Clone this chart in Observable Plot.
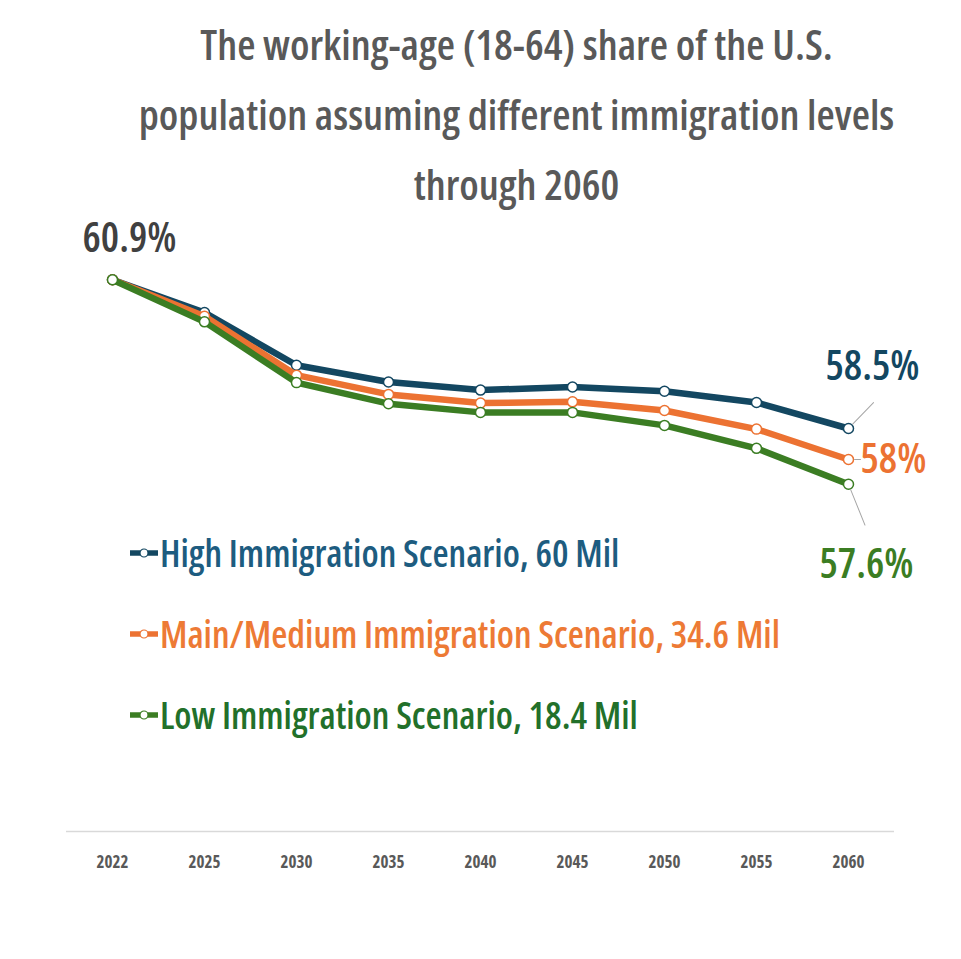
<!DOCTYPE html>
<html><head><meta charset="utf-8">
<script src="https://cdn.jsdelivr.net/npm/d3@7"></script>
<script src="https://cdn.jsdelivr.net/npm/@observablehq/plot@0.6"></script>
<style>
body{margin:0;background:#fff;width:961px;height:959px;overflow:hidden;position:relative;font-family:"Open Sans",sans-serif;font-stretch:75%;}
#title{height:190px;box-sizing:border-box;padding:9px 0 0 72px;text-align:center;font-size:42px;line-height:70px;font-weight:600;color:#595959;white-space:nowrap;}
#legend{position:absolute;left:130px;top:512px;}
.item{display:flex;align-items:center;height:81px;font-size:37px;font-weight:600;white-space:nowrap;}
.item svg{margin-right:2px;}
</style></head>
<body>
<div id="title">The working-age (18-64) share of the U.S.<br>population assuming different immigration levels<br>through 2060</div>
<div id="chart"></div>
<div id="legend"></div>
<script>
const years = ["2022","2025","2030","2035","2040","2045","2050","2055","2060"];
const highValues = [60.9, 60.37, 59.52, 59.25, 59.12, 59.17, 59.10, 58.92, 58.5];
const midValues  = [60.9, 60.31, 59.36, 59.05, 58.91, 58.93, 58.79, 58.49, 58.0];
const lowValues  = [60.9, 60.22, 59.24, 58.90, 58.76, 58.76, 58.55, 58.18, 57.6];
const seriesNames = ["High Immigration Scenario, 60 Mil", "Main/Medium Immigration Scenario, 34.6 Mil", "Low Immigration Scenario, 18.4 Mil"];
const lineColors = ["#134761", "#ec7232", "#3b7d23"];
const textColors = ["#1d5c80", "#ed7a35", "#22702a"];

const allValues = [highValues, midValues, lowValues];
const rows = allValues.map((vals, s) => years.map((year, i) => ({year, value: vals[i], series: seriesNames[s]})));
const fmt = v => v + "%";
const last = rows.map(r => r[r.length - 1]);
const leader = {draw(ctx, l) { ctx.moveTo(0, -6); ctx.lineTo(0, -l); }};

const marks = [Plot.ruleY([52], {stroke: "#d9d9d9", strokeWidth: 1.5})];
rows.forEach((r, s) => {
  marks.push(Plot.line(r, {x: "year", y: "value", stroke: lineColors[s], strokeWidth: 6.5}));
  marks.push(Plot.dot(r, {x: "year", y: "value", r: 5, fill: "white", stroke: lineColors[s], strokeWidth: 1.5}));
});
const labelStyle = {x: "year", y: "value", text: d => fmt(d.value), fontSize: 41, fontWeight: 600};
marks.push(Plot.text([rows[0][0]], {...labelStyle, dx: 17, dy: -41, fill: "#404040"}));
marks.push(Plot.vector([last[0]], {x: "year", y: "value", length: 36, rotate: 44, anchor: "start", shape: leader, stroke: "#a6a6a6", strokeWidth: 1}));
marks.push(Plot.vector([last[1]], {x: "year", y: "value", length: 12, rotate: 90, anchor: "start", shape: leader, stroke: "#a6a6a6", strokeWidth: 1}));
marks.push(Plot.vector([last[2]], {x: "year", y: "value", length: 44, rotate: 158, anchor: "start", shape: leader, stroke: "#a6a6a6", strokeWidth: 1}));
marks.push(Plot.text([last[0]], {...labelStyle, dx: 24, dy: -62, fill: lineColors[0]}));
marks.push(Plot.text([last[1]], {...labelStyle, dx: 12, dy: 0, textAnchor: "start", fill: lineColors[1]}));
marks.push(Plot.text([last[2]], {...labelStyle, dx: 18, dy: 81, fill: lineColors[2]}));
marks.push(Plot.axisX({tickSize: 0, tickPadding: 24, fontSize: 17, fontWeight: "bold", label: null}));

const chart = Plot.plot({
  width: 961,
  height: 769,
  marginTop: 83,
  marginBottom: 128,
  marginLeft: 66,
  marginRight: 67,
  style: {fontFamily: '"Open Sans",sans-serif', fontStretch: "75%", color: "#595959", background: "white"},
  x: {type: "point", domain: years, padding: 0.5, label: null},
  y: {domain: [52, 61], axis: null},
  marks
});
document.getElementById("chart").appendChild(chart);

const legend = document.getElementById("legend");
seriesNames.forEach((name, s) => {
  const item = document.createElement("div");
  item.className = "item";
  item.style.color = textColors[s];
  item.innerHTML = `<svg width="28" height="12"><line x1="0" y1="6" x2="28" y2="6" stroke="${lineColors[s]}" stroke-width="5.5"/><circle cx="14" cy="6" r="4" fill="white" stroke="${lineColors[s]}" stroke-width="1.2"/></svg><span>${name}</span>`;
  legend.appendChild(item);
});
</script>
</body></html>
